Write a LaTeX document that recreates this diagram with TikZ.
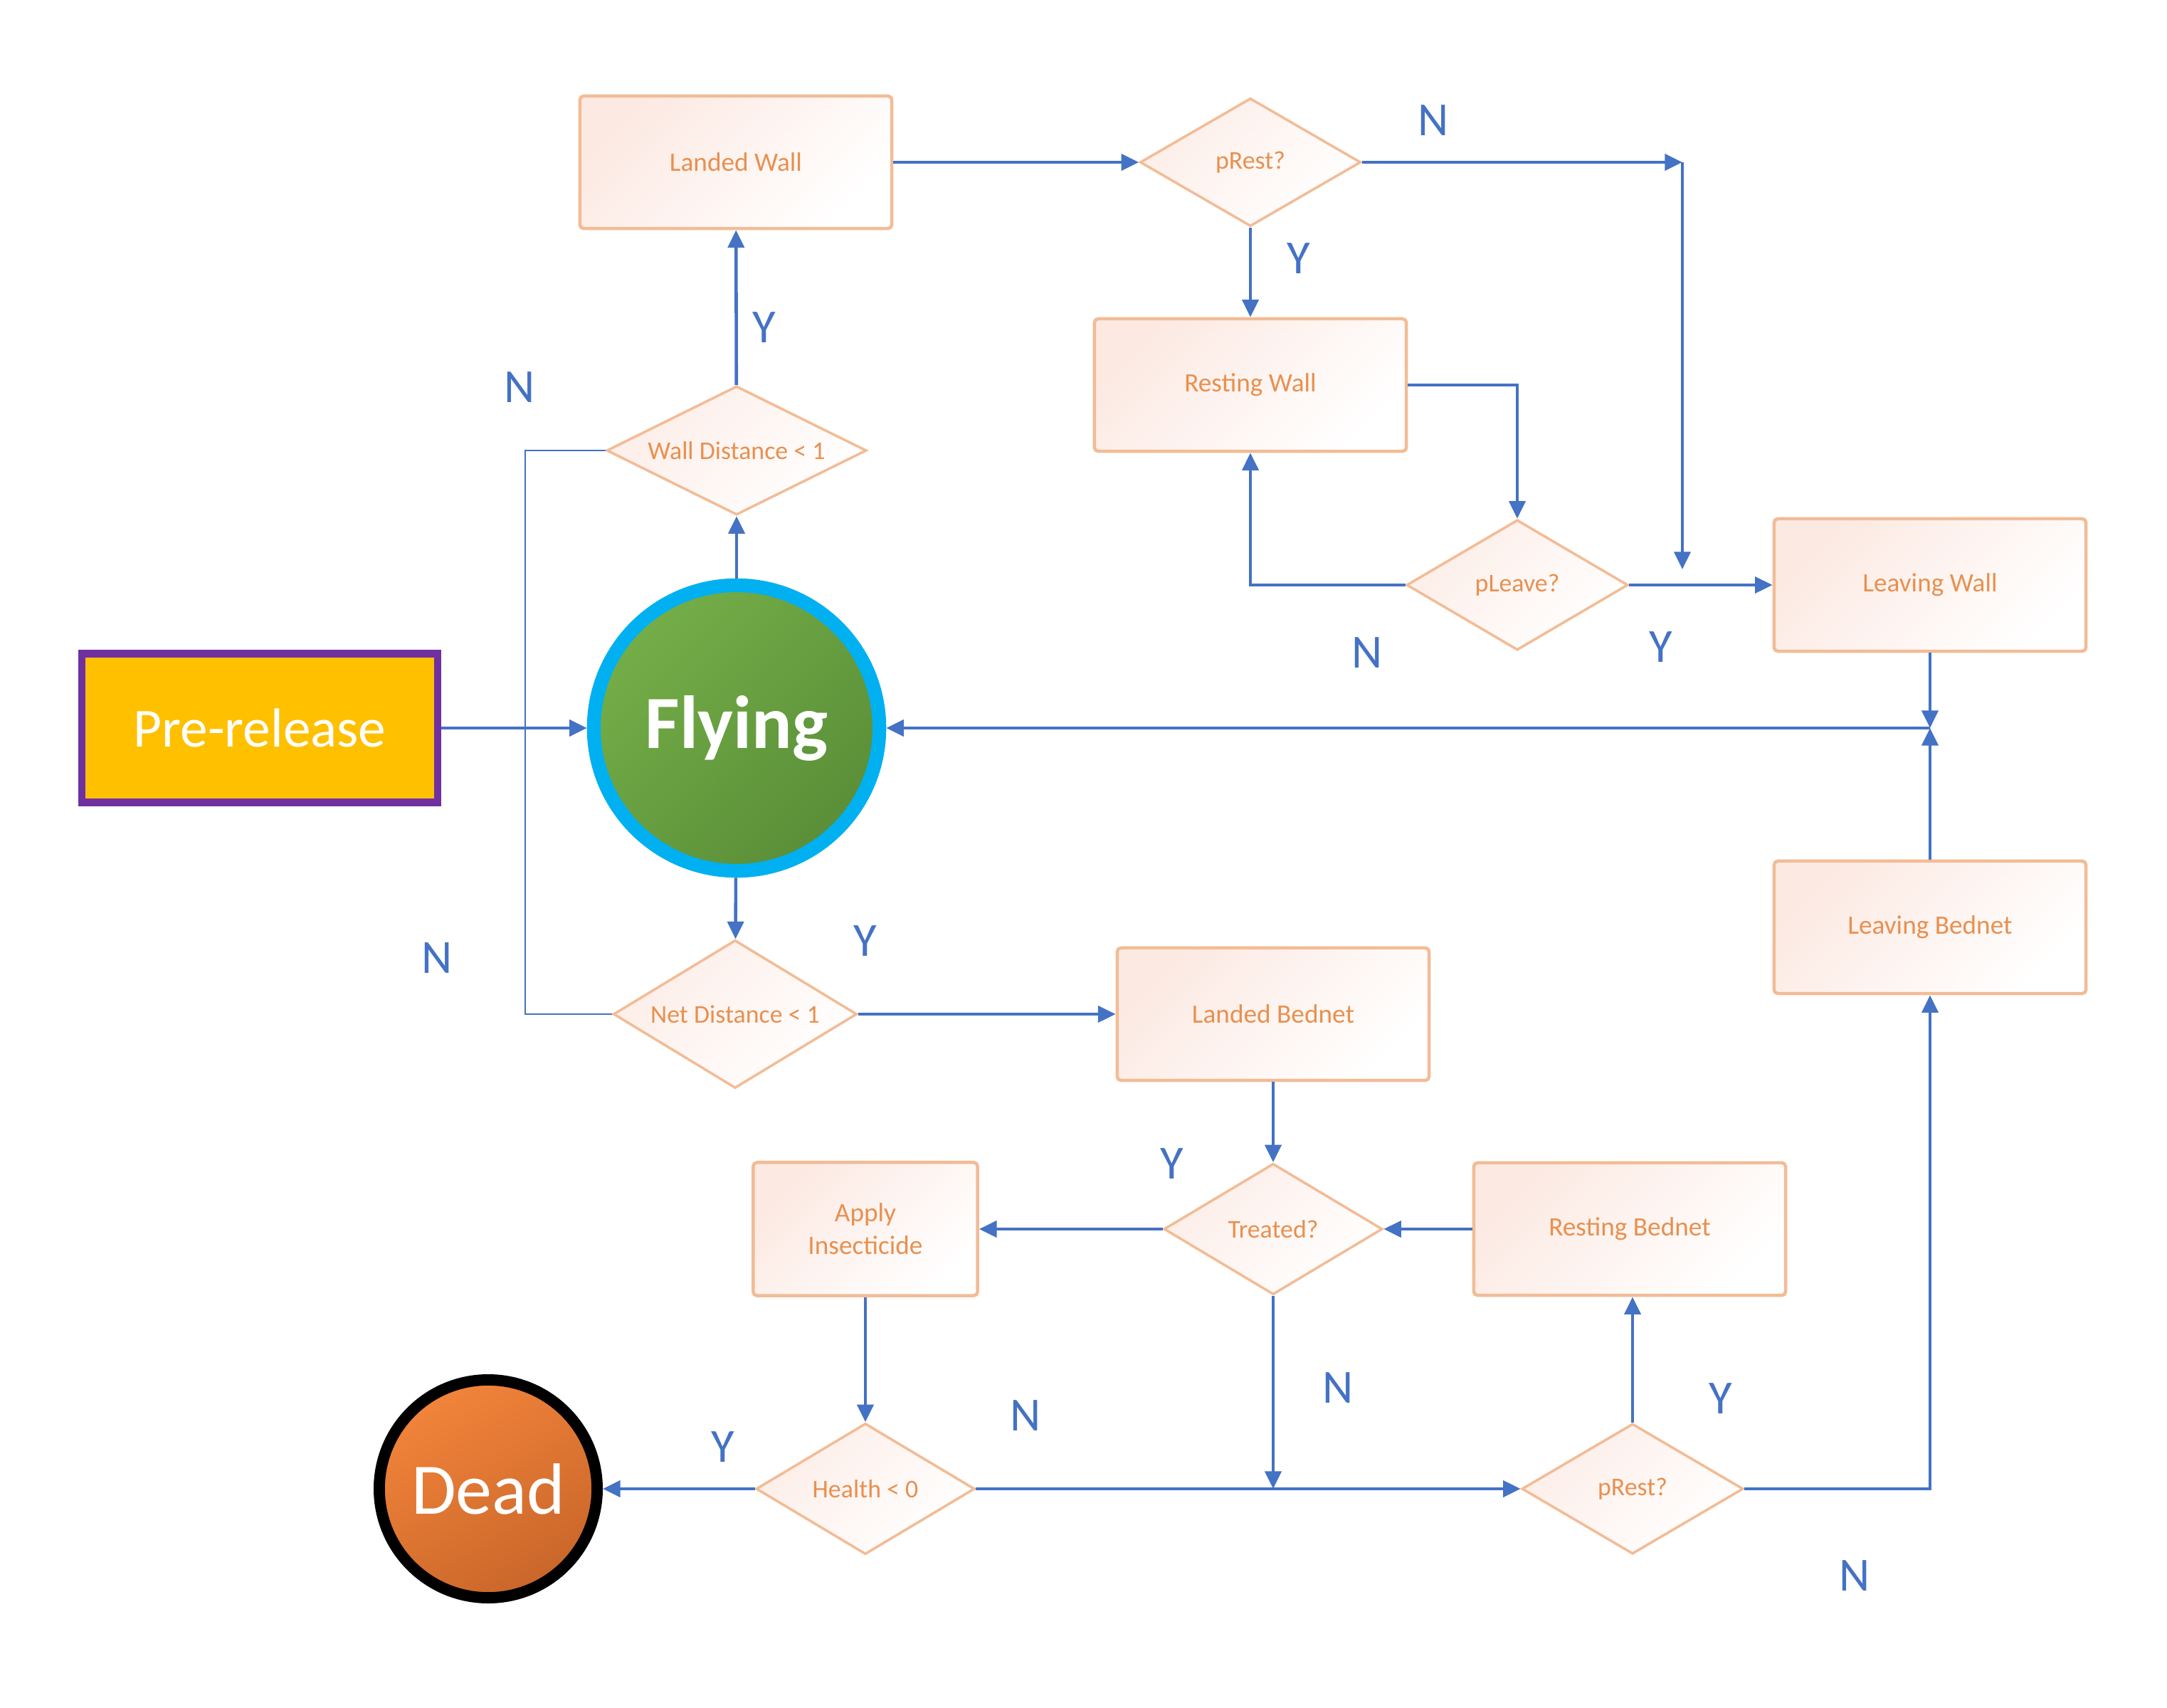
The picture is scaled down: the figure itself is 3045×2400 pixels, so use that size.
\documentclass[tikz,border=0pt]{standalone}
\usepackage{fontspec}
\setmainfont{Carlito}
\usetikzlibrary{shapes.geometric,arrows.meta}
\definecolor{conn}{HTML}{4472C4}
\definecolor{boxline}{HTML}{F2BC96}
\definecolor{boxtext}{HTML}{E8904F}
\definecolor{boxpink}{HTML}{FCE9E2}
\definecolor{preyellow}{HTML}{FFC000}
\definecolor{prepurple}{HTML}{7030A0}
\definecolor{flyblue}{HTML}{00B0F0}
\definecolor{flygreenA}{HTML}{74AE48}
\definecolor{flygreenB}{HTML}{5A8E38}
\definecolor{deadA}{HTML}{F2843A}
\definecolor{deadB}{HTML}{C9662A}
\begin{document}
\begin{tikzpicture}[x=0.01cm,y=-0.01cm,
  procbox/.style={rectangle, draw=boxline, line width=1.3pt, rounded corners=1.5pt,
    minimum width=4.38cm, minimum height=1.86cm, inner sep=0pt,
    top color=boxpink, bottom color=white, shading angle=45,
    text=boxtext, font=\fontsize{10.6}{13}\selectfont, align=center},
  decis/.style={diamond, aspect=2, draw=boxline, line width=1pt, inner sep=0pt,
    top color=boxpink!80, bottom color=white, shading angle=45,
    text=boxtext, font=\fontsize{10.2}{12}\selectfont},
  flow/.style={draw=conn, line width=1.3pt, -{Triangle[length=7pt,width=6.5pt]}},
  loopline/.style={draw=conn, line width=0.8pt},
  yn/.style={text=conn, font=\fontsize{19}{22}\selectfont, inner sep=0pt}]
\useasboundingbox (0,0) rectangle (3045,2400);
\fill[white] (0,0) rectangle (3045,2400);

% nodes
\node[rectangle, draw=prepurple, line width=2.9pt, fill=preyellow, minimum width=4.99cm, minimum height=2.09cm,
  text=white, font=\fontsize{22}{26}\selectfont] (pre) at (365,1023) {Pre-release};
\node[circle, draw=flyblue, line width=5.5pt, top color=flygreenA, bottom color=flygreenB, shading angle=45,
  minimum size=4.01cm, text=white, font=\fontsize{30}{34}\bfseries\selectfont] (fly) at (1035,1023) {Flying};
\node[circle, draw=black, line width=4.5pt, top color=deadA, bottom color=deadB, shading angle=30,
  minimum size=3.06cm, text=white, font=\fontsize{29}{33}\selectfont] (dead) at (686,2092) {Dead};

\node[procbox] (lw) at (1034,228) {Landed Wall};
\node[decis, minimum width=3.10cm, minimum height=1.80cm] (prt) at (1757,228) {pRest?};
\node[procbox] (rw) at (1757,541) {Resting Wall};
\node[decis, minimum width=3.65cm, minimum height=1.81cm] (wd) at (1035,633) {Wall Distance < 1};
\node[decis, minimum width=3.11cm, minimum height=1.83cm] (pl) at (2132,822) {pLeave?};
\node[procbox] (lvw) at (2712,822) {Leaving Wall};
\node[procbox] (lvb) at (2712,1303) {Leaving Bednet};
\node[decis, minimum width=3.42cm, minimum height=2.08cm] (nd) at (1033,1425) {Net Distance < 1};
\node[procbox] (lb) at (1789,1425) {Landed Bednet};
\node[decis, minimum width=3.07cm, minimum height=1.84cm] (tr) at (1789,1727) {Treated?};
\node[procbox, minimum width=3.15cm, minimum height=1.87cm] (ai) at (1216,1727) {Apply\\Insecticide};
\node[procbox] (rb) at (2290,1727) {Resting Bednet};
\node[decis, minimum width=3.07cm, minimum height=1.84cm] (h) at (1216,2092) {Health < 0};
\node[decis, minimum width=3.11cm, minimum height=1.83cm] (prb) at (2294,2092) {pRest?};

% helper coordinates
\coordinate (c1) at (2364,228);
\coordinate (c2) at (2364,800);
\coordinate (jn) at (2712,1023);
\coordinate (lp) at (738,1000);

% connectors
\draw[flow] (pre) -- (fly);
\draw[flow] (fly) -- (wd);
\draw[flow] (wd) -- (lw);
\draw[loopline] (wd.west) -| (lp) |- (nd.west);
\draw[flow] (fly) -- (nd);
\draw[flow] (nd.east) -- (lb.west);
\draw[flow] (lw.east) -- (prt.west);
\draw[flow] (prt.east) -- (c1);
\draw[flow] (c1) -- (c2);
\draw[flow] (prt.south) -- (rw.north);
\draw[flow] (rw.east) -| (pl.north);
\draw[flow] (pl.west) -| (rw.south);
\draw[flow] (pl.east) -- (lvw.west);
\draw[flow] (lvw.south) -- (jn);
\draw[flow] (lvb.north) -- (jn);
\draw[flow] (jn) -- (fly.east);
\draw[flow] (lb.south) -- (tr.north);
\draw[flow] (tr.west) -- (ai.east);
\draw[flow] (rb.west) -- (tr.east);
\draw[flow] (ai.south) -- (h.north);
\draw[flow] (h.west) -- (dead.east);
\draw[flow] (h.east) -- (prb.west);
\draw[flow] (tr.south) -- (tr.south |- h.east);
\draw[flow] (prb.north) -- (prb.north |- rb.south);
\draw[flow] (prb.east) -| (lvb.south);

% labels
\node[yn] (l1) at (2014,169) {N};
\node[yn] (l2) at (1825,363) {Y};
\node[yn] (l3) at (1074,460) {Y};
\node[yn] (l4) at (730,544) {N};
\node[yn] (l5) at (1921,917) {N};
\node[yn] (l6) at (2334,909) {Y};
\node[yn] (l7) at (1216,1322) {Y};
\node[yn] (l8) at (614,1346) {N};
\node[yn] (l9) at (1647,1635) {Y};
\node[yn] (l10) at (1880,1950) {N};
\node[yn] (l11) at (2418,1965) {Y};
\node[yn] (l12) at (1441,1989) {N};
\node[yn] (l13) at (1016,2033) {Y};
\node[yn] (l14) at (2606,2214) {N};
\end{tikzpicture}
\end{document}
